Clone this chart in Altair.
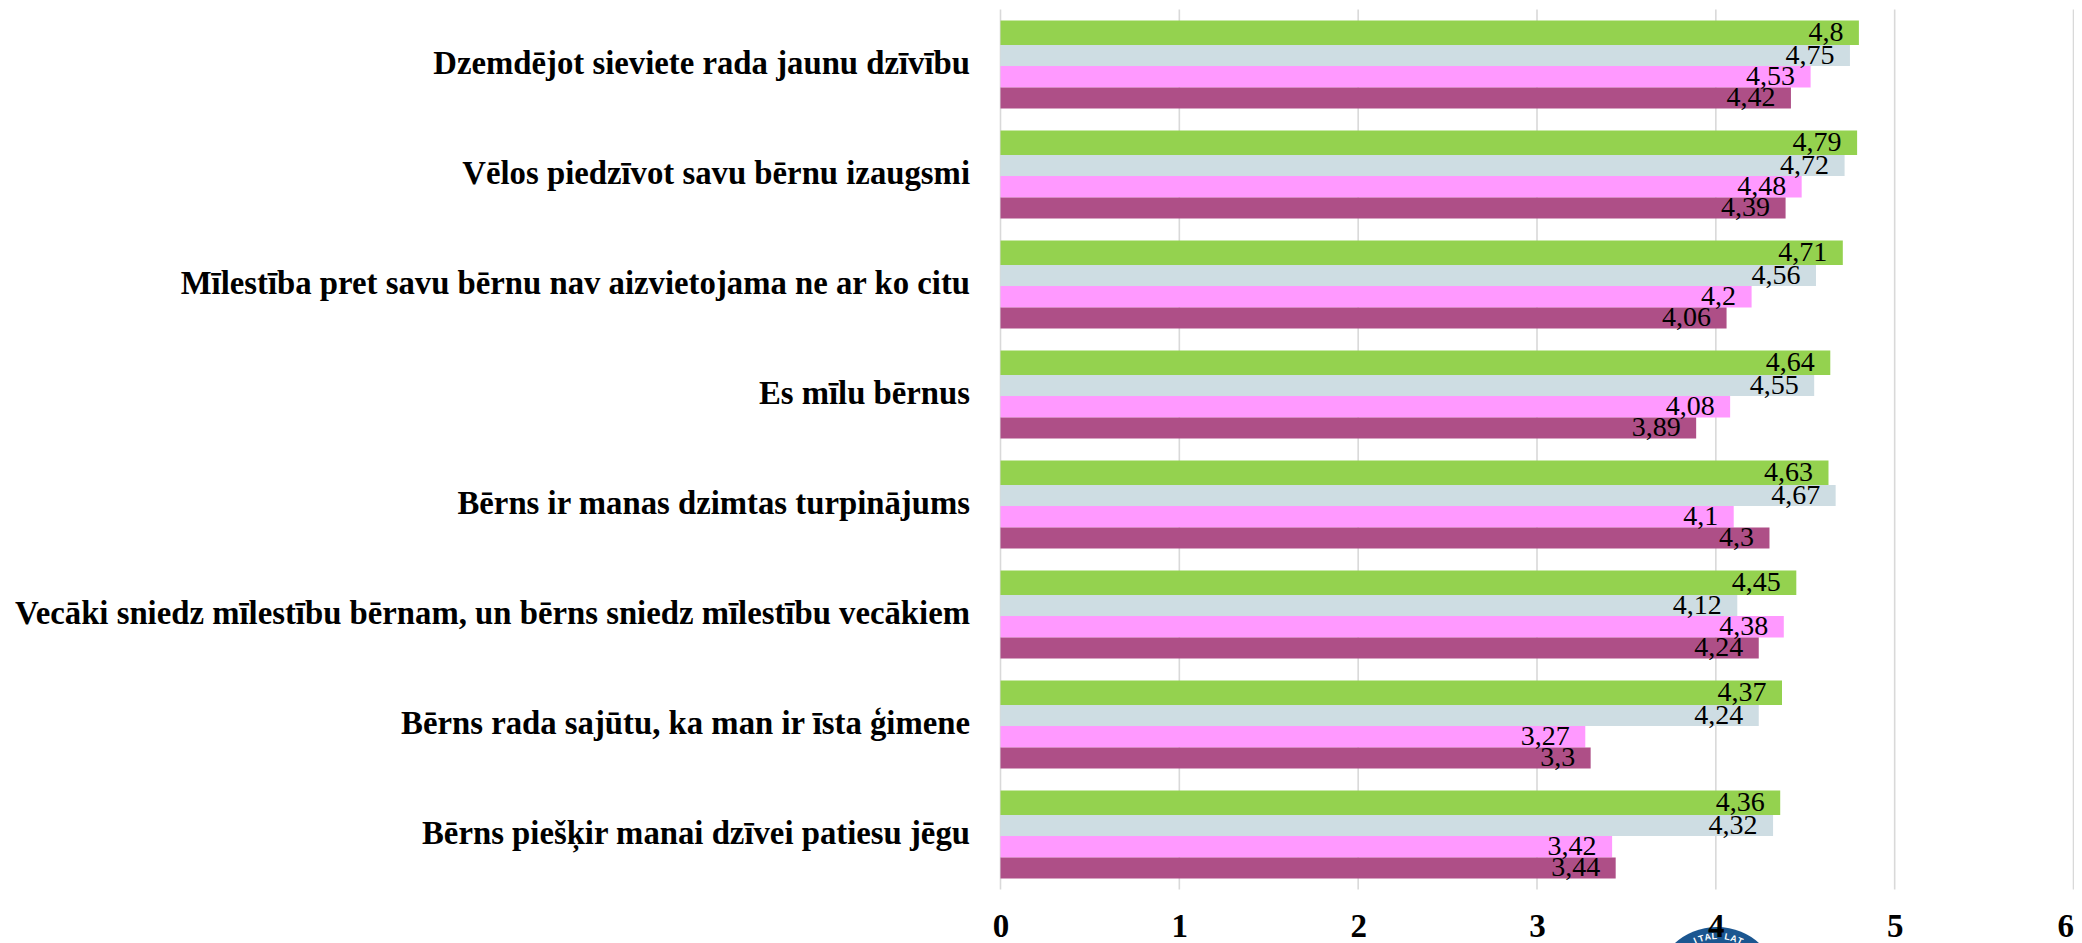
import math
import altair as alt
import pandas as pd

categories = [
    "Dzemdējot sieviete rada jaunu dzīvību",
    "Vēlos piedzīvot savu bērnu izaugsmi",
    "Mīlestība pret savu bērnu nav aizvietojama ne ar ko citu",
    "Es mīlu bērnus",
    "Bērns ir manas dzimtas turpinājums",
    "Vecāki sniedz mīlestību bērnam, un bērns sniedz mīlestību vecākiem",
    "Bērns rada sajūtu, ka man ir īsta ģimene",
    "Bērns piešķir manai dzīvei patiesu jēgu",
]
green_values = [4.8, 4.79, 4.71, 4.64, 4.63, 4.45, 4.37, 4.36]
grey_values = [4.75, 4.72, 4.56, 4.55, 4.67, 4.12, 4.24, 4.32]
pink_values = [4.53, 4.48, 4.2, 4.08, 4.1, 4.38, 3.27, 3.42]
purple_values = [4.42, 4.39, 4.06, 3.89, 4.3, 4.24, 3.3, 3.44]
x_ticks = [0, 1, 2, 3, 4, 5, 6]

series = [
    (green_values, "#94D24F", -31.75, 24.5),
    (grey_values, "#CEDDE3", -9, 21),
    (pink_values, "#FF99FF", 12.25, 21.5),
    (purple_values, "#AE4F87", 33.5, 21),
]

SERIF = "Liberation Serif"
x_scale = alt.Scale(domain=[0, 6], nice=False)
y_scale = alt.Scale(domain=categories, paddingInner=0, paddingOuter=0)

x_axis = alt.Axis(
    values=x_ticks, title=None, grid=False,
    domain=False, ticks=False, labelFont=SERIF, labelFontWeight="bold",
    labelFontSize=33, labelColor="#000000", labelPadding=21, labelFlush=False,
    labelAlign={"condition": {"test": "datum.value == 6", "value": "right"}, "value": "center"},
    zindex=1, labelOverlap=False,
)
y_axis = alt.Axis(
    title=None, domain=False, ticks=False, grid=False, labelFont=SERIF,
    labelFontWeight="bold", labelFontSize=32.75, labelColor="#000000",
    labelPadding=31, labelLimit=1200, labelOffset=-1,
)

grid = alt.Chart(pd.DataFrame({"tick": x_ticks})).mark_rule(
    color="#D9D9D9", strokeWidth=1.6
).encode(x=alt.X("tick:Q", scale=x_scale, axis=x_axis))

# Seal cut off by the bottom edge of the page
seal_letters = list("ITAL LAT")
seal_angles = [-24.5 + 7 * i for i in range(len(seal_letters))]
seal = pd.DataFrame({
    "letter": seal_letters,
    "angle": [(a + 360) % 360 for a in seal_angles],
    "px": [717 + 54 * math.sin(math.radians(a)) for a in seal_angles],
    "py": [980.5 - 54 * math.cos(math.radians(a)) for a in seal_angles],
})
logo = alt.Chart(pd.DataFrame({"px": [716.5], "py": [980.5]})).mark_point(
    filled=True, shape="circle", size=15876, color="#1B5690", opacity=1, clip=False,
).encode(x=alt.X("px:Q", scale=None, axis=None), y=alt.Y("py:Q", scale=None, axis=None))
logo_text = alt.Chart(seal).mark_text(
    font="Liberation Sans", fontSize=9, fontWeight="bold", color="#FFFFFF", baseline="middle",
).encode(
    x=alt.X("px:Q", scale=None, axis=None),
    y=alt.Y("py:Q", scale=None, axis=None),
    text="letter:N",
    angle=alt.Angle("angle:Q", scale=None),
)

layers = [grid]
for values, colour, offset, thickness in series:
    df = pd.DataFrame({"category": categories, "value": values})
    layers.append(
        alt.Chart(df).mark_bar(color=colour, height=thickness, yOffset=offset).encode(
            x=alt.X("value:Q", scale=x_scale, axis=x_axis),
            y=alt.Y("category:N", scale=y_scale, axis=y_axis, sort=None),
        )
    )
for values, colour, offset, thickness in series:
    df = pd.DataFrame({
        "category": categories,
        "value": values,
        "label": [str(v).replace(".", ",") for v in values],
    })
    layers.append(
        alt.Chart(df).mark_text(
            font=SERIF, fontSize=28, color="#000000", align="right",
            baseline="middle", dx=-15.5, yOffset=offset,
        ).encode(
            x=alt.X("value:Q", scale=x_scale, axis=x_axis),
            y=alt.Y("category:N", scale=y_scale, axis=y_axis, sort=None),
            text="label:N",
        )
    )

chart = (
    alt.layer(*layers, logo, logo_text)
    .resolve_scale(x="shared", y="shared")
    .properties(
        width=1073, height=880,
        autosize=alt.AutoSizeParams(type="none"),
        padding={"left": 992.5, "top": 1.5, "right": 0.5, "bottom": 53.5},
        background="#FFFFFF",
    )
    .configure_view(stroke=None)
)
chart.save("out.html", embed_options={"renderer": "svg", "actions": False})
